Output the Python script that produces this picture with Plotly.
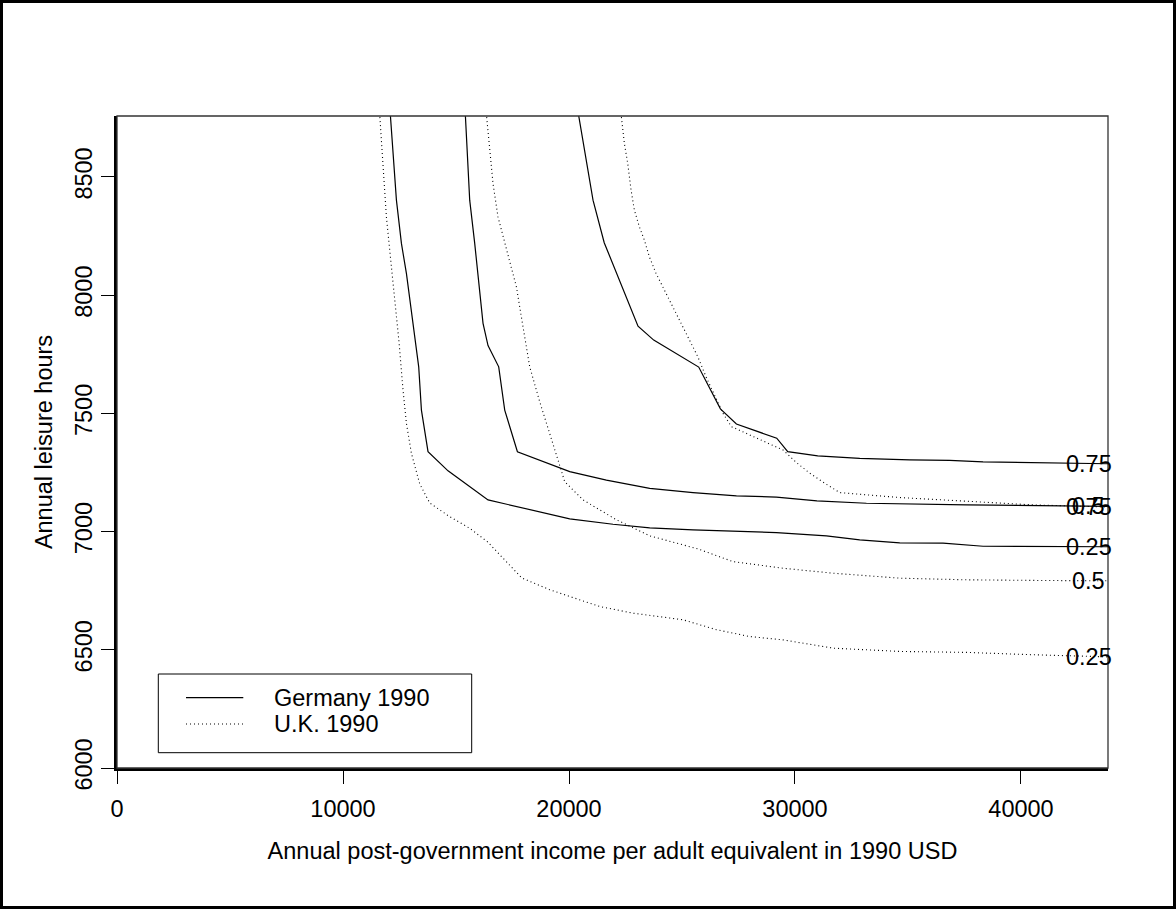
import plotly.graph_objects as go

# ---------------- data ----------------
de25_x = [12090, 12364, 12585, 12806, 13350, 13470, 13762, 14647, 16417, 20032, 21948, 23572,
          25488, 27409, 29179, 31391, 32865, 34635, 36551, 38321, 41715, 43900]
de25_y = [8770, 8402, 8219, 8092, 7697, 7514, 7338, 7257, 7134, 7054, 7031, 7016,
          7007, 7002, 6996, 6982, 6965, 6952, 6951, 6938, 6937, 6936]

de50_x = [15410, 15607, 15828, 16196, 16417, 16890, 17156, 17718, 20032, 21656, 23572, 25488,
          27409, 29179, 30971, 33160, 37586, 42011, 43900]
de50_y = [8770, 8402, 8219, 7881, 7787, 7697, 7514, 7338, 7254, 7218, 7183, 7165,
          7151, 7146, 7130, 7120, 7113, 7109, 7107]

de75_x = [20410, 21063, 21559, 23054, 23749, 25740, 26700, 27408, 29192, 29679, 31006, 32865,
          35077, 36847, 38321, 42011, 43900]
de75_y = [8770, 8402, 8222, 7869, 7810, 7696, 7519, 7455, 7395, 7338, 7320, 7310,
          7303, 7301, 7295, 7289, 7287]

uk25_x = [11620, 11771, 11921, 12098, 12288, 12479, 12656, 12806, 13027, 13395, 13837, 14722,
          15607, 16404, 17156, 17909, 19148, 21360, 22834, 25046, 26524, 28000, 29473, 31686,
          34635, 37586, 40533, 43900]
uk25_y = [8770, 8543, 8331, 8162, 7979, 7802, 7599, 7458, 7331, 7202, 7121, 7063,
          7014, 6956, 6880, 6804, 6754, 6683, 6655, 6627, 6585, 6556, 6542, 6507,
          6493, 6489, 6479, 6470]

uk50_x = [16340, 16492, 16638, 16859, 17231, 17673, 17966, 18262, 18705, 19148, 19444, 19811,
          20621, 22099, 23572, 25696, 27258, 29471, 31683, 34635, 37586, 41259, 43900]
uk50_y = [8770, 8613, 8472, 8331, 8190, 8035, 7866, 7697, 7549, 7409, 7324, 7211,
          7134, 7050, 6982, 6927, 6873, 6845, 6824, 6803, 6796, 6793, 6792]

uk75_x = [22300, 22450, 22600, 22747, 22893, 23114, 23335, 23557, 23853, 24220, 24592, 24960,
          25327, 25699, 26066, 26523, 26816, 27187, 27996, 28735, 29471, 30064, 30652, 31391,
          31980, 34635, 37586, 40533, 43900]
uk75_y = [8770, 8642, 8557, 8444, 8360, 8289, 8233, 8162, 8092, 8022, 7951, 7880,
          7810, 7740, 7654, 7564, 7500, 7444, 7409, 7374, 7345, 7292, 7247, 7200,
          7165, 7144, 7127, 7113, 7104]

series_names = ["Germany 1990", "U.K. 1990"]
quantile_labels = ["0.25", "0.5", "0.75"]
x_ticks = [0, 10000, 20000, 30000, 40000]
y_ticks = [6000, 6500, 7000, 7500, 8000, 8500]
label_x = 43000

# ---------------- figure ----------------
FONT = "Liberation Sans, Arial, Helvetica, sans-serif"
FS = 23.5
W, H = 1176, 909
L, R, T, B = 117, 68, 116, 141
PW, PH = W - L - R, H - T - B


def px(x):
    return (x - L) / PW


def py(y):
    return 1 - (y - T) / PH


fig = go.Figure()

groups = [
    (series_names[0], "solid", [(de25_x, de25_y), (de50_x, de50_y), (de75_x, de75_y)]),
    (series_names[1], "1px,3px", [(uk25_x, uk25_y), (uk50_x, uk50_y), (uk75_x, uk75_y)]),
]

annotations = []
for name, dash, curves in groups:
    for i, (xs, ys) in enumerate(curves):
        fig.add_trace(go.Scatter(
            x=xs, y=ys, mode="lines", name=name, legendgroup=name,
            showlegend=False,
            line=dict(color="black", width=1.2 if dash == "solid" else 1.1, dash=dash),
            hoverinfo="skip",
        ))
        annotations.append(dict(
            x=label_x, y=ys[-1], xref="x", yref="y", text=quantile_labels[i],
            showarrow=False, xanchor="center", yanchor="middle",
            font=dict(family=FONT, size=FS, color="black"),
        ))

# manual legend (R-style box)
lg_x0, lg_x1, lg_y0, lg_y1 = 158.3, 471.7, 674, 752.7
shapes = [
    # outer figure frame
    dict(type="rect", xref="paper", yref="paper",
         x0=px(1.5), x1=px(W - 1.5), y0=py(H - 1.5), y1=py(1.5),
         line=dict(color="black", width=3), layer="above"),
    # plot box
    dict(type="rect", xref="paper", yref="paper", x0=0, x1=1, y0=0, y1=1,
         line=dict(color="#333333", width=1.3), layer="above"),
    # legend box
    dict(type="rect", xref="paper", yref="paper",
         x0=px(lg_x0), x1=px(lg_x1), y0=py(lg_y1), y1=py(lg_y0),
         line=dict(color="black", width=1), fillcolor="white", layer="below"),
]
legend_rows = [697.7, 724]
for (name, dash, _), yrow in zip(groups, legend_rows):
    shapes.append(dict(type="line", xref="paper", yref="paper",
                       x0=px(186), x1=px(243.3), y0=py(yrow), y1=py(yrow),
                       line=dict(color="black", width=1.2 if dash == "solid" else 1.1, dash=dash)))
    annotations.append(dict(x=px(272.3), y=py(yrow), xref="paper", yref="paper",
                            text=name, showarrow=False, xanchor="left", yanchor="middle",
                            font=dict(family=FONT, size=FS, color="black")))

fig.update_layout(
    width=W, height=H,
    margin=dict(l=L, r=R, t=T, b=B, autoexpand=False),
    paper_bgcolor="white", plot_bgcolor="white",
    font=dict(family=FONT, size=FS, color="black"),
    showlegend=False,
    shapes=shapes,
    annotations=annotations,
    xaxis=dict(
        range=[0, 43850], tickvals=x_ticks, ticktext=[str(v) for v in x_ticks],
        showgrid=False, zeroline=False, showline=True, linecolor="black", linewidth=2.5,
        ticks="outside", ticklen=13, tickwidth=1, tickcolor="black", ticklabelstandoff=5,
        tickfont=dict(family=FONT, size=FS), automargin=False,
        title=dict(text="Annual post-government income per adult equivalent in 1990 USD",
                   font=dict(family=FONT, size=FS), standoff=22),
    ),
    yaxis=dict(
        range=[6000, 8758], tickvals=y_ticks, ticktext=[str(v) for v in y_ticks],
        showgrid=False, zeroline=False, showline=True, linecolor="black", linewidth=2.5,
        ticks="outside", ticklen=13, tickwidth=1, tickcolor="black", tickangle=-90,
        tickfont=dict(family=FONT, size=FS), automargin=False,
        title=dict(text="Annual leisure hours", font=dict(family=FONT, size=FS), standoff=12),
    ),
)

fig.write_html("out.html", include_plotlyjs=True, config={"displayModeBar": False})
